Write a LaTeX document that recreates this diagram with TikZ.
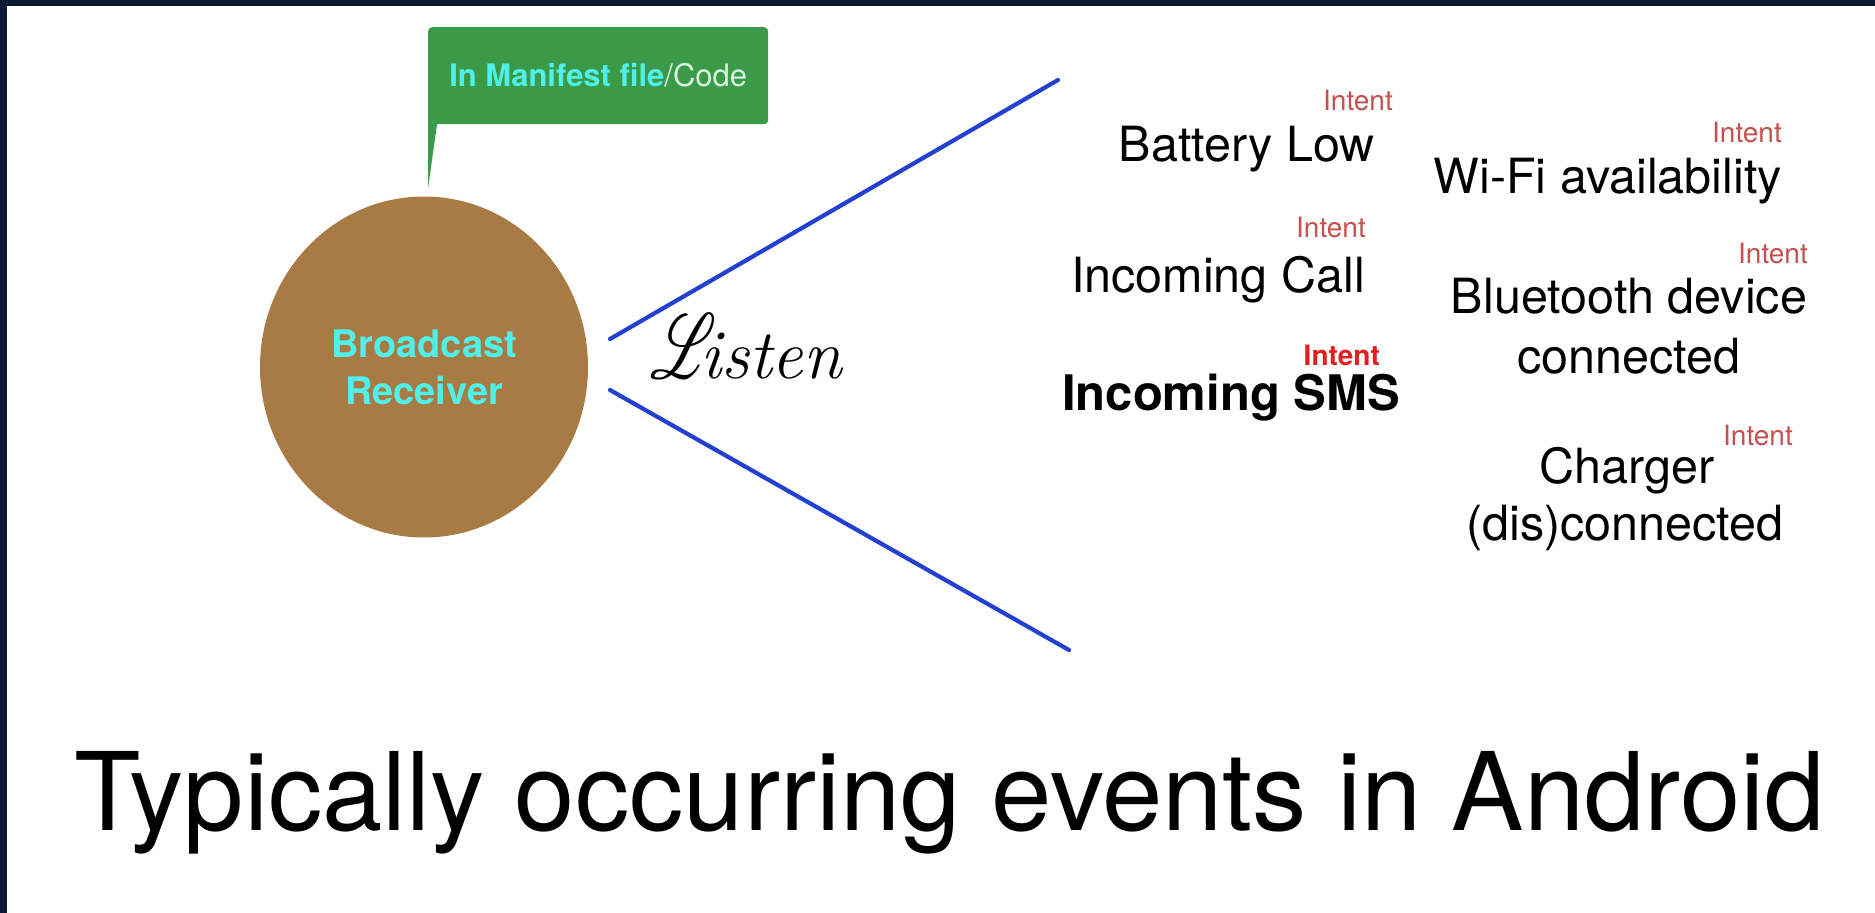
\documentclass[tikz,border=0pt]{standalone}
\usepackage{fontspec}
\usepackage{graphicx}
\usepackage{mathrsfs}
\setmainfont{TeX Gyre Heros}
\newfontfamily\lmrm{Latin Modern Roman}
\usetikzlibrary{shapes.geometric}
\definecolor{navy}{RGB}{10,26,51}
\definecolor{boxgreen}{RGB}{59,154,72}
\definecolor{cyantext}{RGB}{80,240,232}
\definecolor{codetext}{RGB}{215,245,225}
\definecolor{recvbrown}{RGB}{168,122,68}
\definecolor{linkblue}{RGB}{35,64,208}
\definecolor{intentred}{RGB}{196,80,80}
\definecolor{intentbold}{RGB}{226,30,30}
\tikzset{
  event/.style={inner sep=0pt, font=\fontsize{48.5}{58}\selectfont, text=black},
  intent/.style={inner sep=0pt, font=\fontsize{28}{34}\selectfont, text=intentred},
  link/.style={draw=linkblue, line width=4.2pt, line cap=round},
}
\begin{document}
\begin{tikzpicture}[x=1pt,y=-1pt]
\useasboundingbox (0,0) rectangle (1875,913);
\fill[white] (0,0) rectangle (1875,913);
\fill[navy] (0,0) rectangle (7,913);
\fill[navy] (0,0) rectangle (1875,6);

% callout
\node[fill=boxgreen, rounded corners=4pt, minimum width=340pt, minimum height=97pt,
      inner sep=0pt, anchor=north west] (callout) at (428,27)
  {\fontsize{31}{36}\selectfont\color{cyantext}\bfseries In Manifest file\mdseries\color{codetext}/Code};
\fill[boxgreen] ([yshift=6pt]callout.south west) -- ++(0,70) coordinate (tip)
  -- ([xshift=9pt]callout.south west) -- ([shift={(9pt,6pt)}]callout.south west) -- cycle;

% receiver
\node[ellipse, fill=recvbrown, minimum width=328pt, minimum height=341pt, inner sep=0pt,
      align=center, text=cyantext, font=\fontsize{38}{47}\selectfont\bfseries]
  (recv) at (424,367) {Broadcast\\Receiver};

% connectors
\coordinate (u0) at (610,339);
\coordinate (u1) at (1058,80);
\coordinate (d0) at (610,390);
\coordinate (d1) at (1069,650);
\draw[link] (u0) -- (u1);
\draw[link] (d0) -- (d1);

% Listen
\node[inner sep=0pt, anchor=base west] (listen) at (650,378)
  {\rlap{\scalebox{6.2}[9.2]{$\mathscr{L}$}}\hspace{50pt}{\lmrm\itshape\fontsize{70}{70}\selectfont isten}};

% events, left column
\node[intent, anchor=base east] (i1) at (1393,110) {Intent};
\node[event, anchor=base east] (e1) at (1375,161) {Battery Low};
\node[intent, anchor=base east] (i2) at (1366,237) {Intent};
\node[event, anchor=base east] (e2) at (1365,292) {Incoming Call};
\node[intent, anchor=base east, text=intentbold, font=\fontsize{28}{34}\selectfont\bfseries] (i3) at (1380,365) {Intent};
\node[event, anchor=base west, font=\fontsize{49}{58}\selectfont\bfseries] (e3) at (1062,410) {Incoming SMS};

% events, right column
\node[intent, anchor=base east] (i4) at (1782,142) {Intent};
\node[event, anchor=base east] (e4) at (1782,193) {Wi-Fi availability};
\node[intent, anchor=base east] (i5) at (1808,263) {Intent};
\node[event, anchor=base] (e5a) at (1629,313) {Bluetooth device};
\node[event, anchor=base] (e5b) at (1629,373) {connected};
\node[intent, anchor=base east] (i6) at (1793,445) {Intent};
\node[event, anchor=base] (e6a) at (1627,483) {Charger};
\node[event, anchor=base] (e6b) at (1625,540) {(dis)connected};

% title
\node[inner sep=0pt, anchor=base west, font=\fontsize{108.5}{108}\selectfont] (title) at (74,830)
  {Typically occurring events in Android};
\end{tikzpicture}
\end{document}
